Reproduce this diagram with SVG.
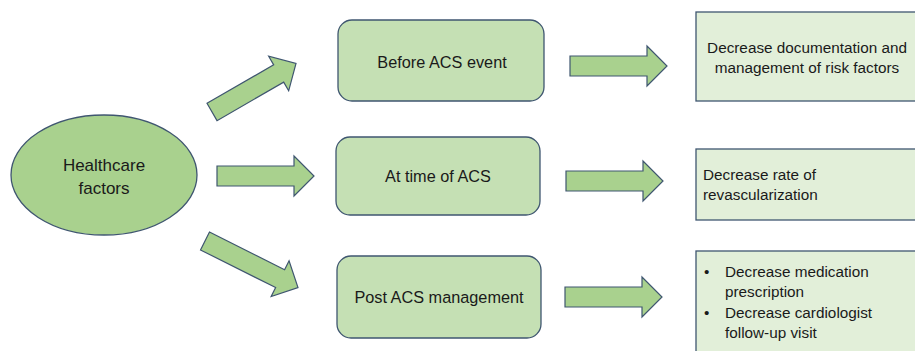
<svg xmlns="http://www.w3.org/2000/svg" width="915" height="351" viewBox="0 0 915 351">
<style>
text{font-family:"Liberation Sans",Arial,sans-serif;fill:#1a1a1a;}
.c{text-anchor:middle;}
.mid{fill:#c5e0b4;stroke:#3f5670;stroke-width:1.3;}
.out{fill:#e2efd9;stroke:#3f5670;stroke-width:1.3;}
.arr{fill:#a9d18e;stroke:#3f5670;stroke-width:1.2;stroke-linejoin:miter;}
</style>
<defs>
<path id="ar" d="M0,-10 H77 V-20 L97,0 L77,20 V10 H0 Z"/>
<path id="ar2" d="M0,-10 H84 V-20 L104,0 L84,20 V10 H0 Z"/>
</defs>
<rect width="915" height="351" fill="#ffffff"/>
<g id="healthcare">
<ellipse cx="104" cy="175" rx="93" ry="60" fill="#a9d18e" stroke="#3f5670" stroke-width="1.3"/>
<text class="c" x="104" y="171" font-size="17">Healthcare</text>
<text class="c" x="104" y="194" font-size="17">factors</text>
</g>
<g id="before">
<rect class="mid" x="338" y="20" width="206" height="81" rx="14"/>
<text class="c" x="442" y="68" font-size="16.3">Before ACS event</text>
</g>
<g id="attime">
<rect class="mid" x="336" y="137" width="204" height="78" rx="14"/>
<text class="c" x="438" y="182" font-size="16.3">At time of ACS</text>
</g>
<g id="post">
<rect class="mid" x="337" y="256" width="204" height="82" rx="14"/>
<text class="c" x="439" y="303" font-size="16.3">Post ACS management</text>
</g>
<g id="out1">
<rect class="out" x="696" y="12" width="230" height="89"/>
<text class="c" x="807" y="53" font-size="15.3">Decrease documentation and</text>
<text class="c" x="807" y="73" font-size="15.3">management of risk factors</text>
</g>
<g id="out2">
<rect class="out" x="696" y="149" width="230" height="71"/>
<text x="703" y="180" font-size="15.3">Decrease rate of</text>
<text x="703" y="200" font-size="15.3">revascularization</text>
</g>
<g id="out3">
<rect class="out" x="696" y="251" width="230" height="110"/>
<text x="704" y="277" font-size="15.3">•</text>
<text x="725" y="277" font-size="15.3">Decrease medication</text>
<text x="725" y="297" font-size="15.3">prescription</text>
<text x="704" y="318" font-size="15.3">•</text>
<text x="725" y="318" font-size="15.3">Decrease cardiologist</text>
<text x="725" y="338" font-size="15.3">follow-up visit</text>
</g>
<g id="connectors">
<use href="#ar" class="arr" transform="translate(212,112) rotate(-30)"/>
<use href="#ar" class="arr" transform="translate(217,176)"/>
<use href="#ar2" class="arr" transform="translate(205,241) rotate(26.6)"/>
<use href="#ar" class="arr" transform="translate(570,66)"/>
<use href="#ar" class="arr" transform="translate(566,181)"/>
<use href="#ar" class="arr" transform="translate(565,297)"/>
</g>
</svg>
